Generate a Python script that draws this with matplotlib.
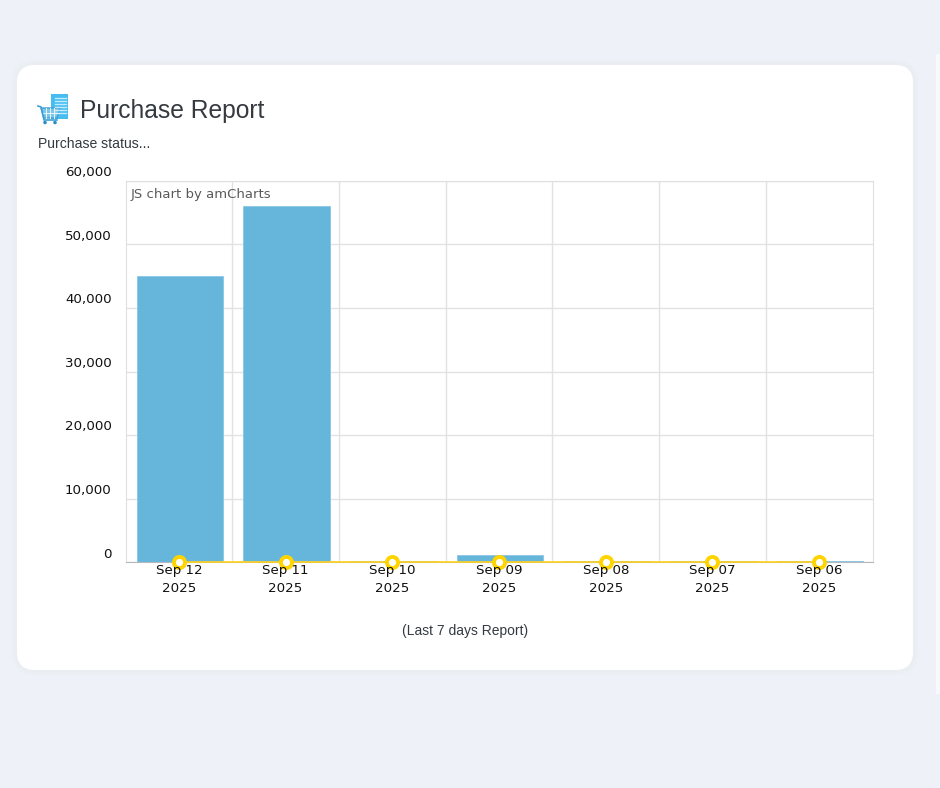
import matplotlib
matplotlib.use("Agg")
import matplotlib.pyplot as plt
import numpy as np
from matplotlib.patches import FancyBboxPatch, Rectangle, Circle, Polygon

W, H = 940, 788

days = ['Sep 12', 'Sep 11', 'Sep 10', 'Sep 09', 'Sep 08', 'Sep 07', 'Sep 06']
years = ['2025'] * 7
purchase = [45000, 56050, 200, 1100, 160, 150, 120]
line_vals = [60, 60, 60, 60, 60, 60, 60]
yticks = [0, 10000, 20000, 30000, 40000, 50000, 60000]

plt.rcParams['font.family'] = ['DejaVu Sans']

fig = plt.figure(figsize=(W / 100, H / 100), dpi=100, facecolor='#eef2f8')

# background layer in pixel coordinates, y going down like the page
bg = fig.add_axes([0, 0, 1, 1], zorder=0)
bg.set_xlim(0, W)
bg.set_ylim(H, 0)
bg.axis('off')

bg.add_patch(Rectangle((936, 54), 4, 640, fc='#f8f9fb', ec='none'))
# soft shadow then the card
for grow, col in [(5, '#ecf0f5'), (2.5, '#eaeef3')]:
    bg.add_patch(FancyBboxPatch((17 + 18, 65 + 18), 896 - 36, 605 - 36,
                                boxstyle='round,pad=%g,rounding_size=%g' % (18 + grow, 18 + grow),
                                fc=col, ec='none'))
bg.add_patch(FancyBboxPatch((17 + 18, 65 + 18), 896 - 36, 605 - 36,
                            boxstyle='round,pad=18,rounding_size=18', fc='white', ec='none'))

# icon: document with a shopping cart in front
bg.add_patch(Rectangle((51, 94), 17, 25, fc='#45bdf0', ec='none'))
for yy in np.arange(98, 116, 3):
    bg.plot([55, 66], [yy, yy], color='#c4ebfb', lw=1)
bg.add_patch(Polygon([[41, 108], [60, 108], [57, 118], [44, 118]], fc='#7cc6ea', ec='#3f9fd6', lw=1))
for xx in [46, 50, 54]:
    bg.plot([xx, xx], [108, 118], color='#e8f6fc', lw=0.7)
bg.plot([42, 59], [113, 113], color='#e8f6fc', lw=0.7)
bg.plot([38, 41, 44, 57], [106, 107, 120, 120], color='#3f9fd6', lw=1.2)
for xx in [45, 55]:
    bg.add_patch(Circle((xx, 122.5), 1.8, fc='#2f8fc4', ec='none'))

bg.text(80, 111, 'Purchase Report', fontsize=17.7, family='Liberation Sans', color='#343a40',
        va='center', ha='left')
bg.text(38, 144, 'Purchase status...', fontsize=10.1, family='Liberation Sans', color='#343a40',
        va='center', ha='left')
bg.text(465, 631.5, '(Last 7 days Report)', fontsize=10, family='Liberation Sans', color='#343a40',
        va='center', ha='center')

# chart area
ax = fig.add_axes([125.5 / W, 1 - 562 / H, 747 / W, 381 / H], zorder=1)
ax.patch.set_alpha(0)
x = np.arange(len(days))
ax.set_xlim(-0.5, 6.5)
ax.set_ylim(0, 60000)

ax.set_yticks(yticks)
ax.set_xticks(x[:-1] + 0.5, minor=False)
ax.grid(True, color='#e2e2e2', lw=1)
ax.set_axisbelow(True)
ax.tick_params(length=0, labelbottom=False, labelleft=False)
for s in ['top', 'right', 'left']:
    ax.spines[s].set_color('#e0e0e0')
ax.spines['bottom'].set_color('#b5b9bd')

# bars sit about a pixel right of the markers in the original
ax.bar(x + 0.01, purchase, width=0.81, color='#66b6dc', edgecolor='#7fc2e2', linewidth=0.5, zorder=2)
ax.plot(x, line_vals, color='#ffd21f', lw=1.2, zorder=3, clip_on=False)
ax.plot(x, line_vals, ls='none', marker='o', ms=8, mfc='white', mec='#ffd400', mew=2.8,
        zorder=4, clip_on=False)

ax.text(0.0075, 0.964, 'JS chart by amCharts', transform=ax.transAxes, fontsize=9.55,
        color='#5a5a5a', va='center', ha='left', zorder=5)

# labels sit higher than their gridlines, the way the page drew them
for v in yticks:
    ax.annotate(format(v, ','), (0, v), xycoords=('axes fraction', 'data'), xytext=(-14, 8),
                textcoords='offset pixels', ha='right', va='center', fontsize=9.6, color='#111111',
                annotation_clip=False)
for i, d in enumerate(days):
    ax.annotate(d, (i, 0), xycoords=('data', 'axes fraction'), xytext=(0, -8.5), textcoords='offset pixels',
                ha='center', va='center', fontsize=9.6, color='#111111', annotation_clip=False, zorder=6)
    ax.annotate(years[i], (i, 0), xycoords=('data', 'axes fraction'), xytext=(0, -27), textcoords='offset pixels',
                ha='center', va='center', fontsize=9.6, color='#111111', annotation_clip=False, zorder=6)

fig.savefig('out.png', dpi=100, facecolor=fig.get_facecolor())
